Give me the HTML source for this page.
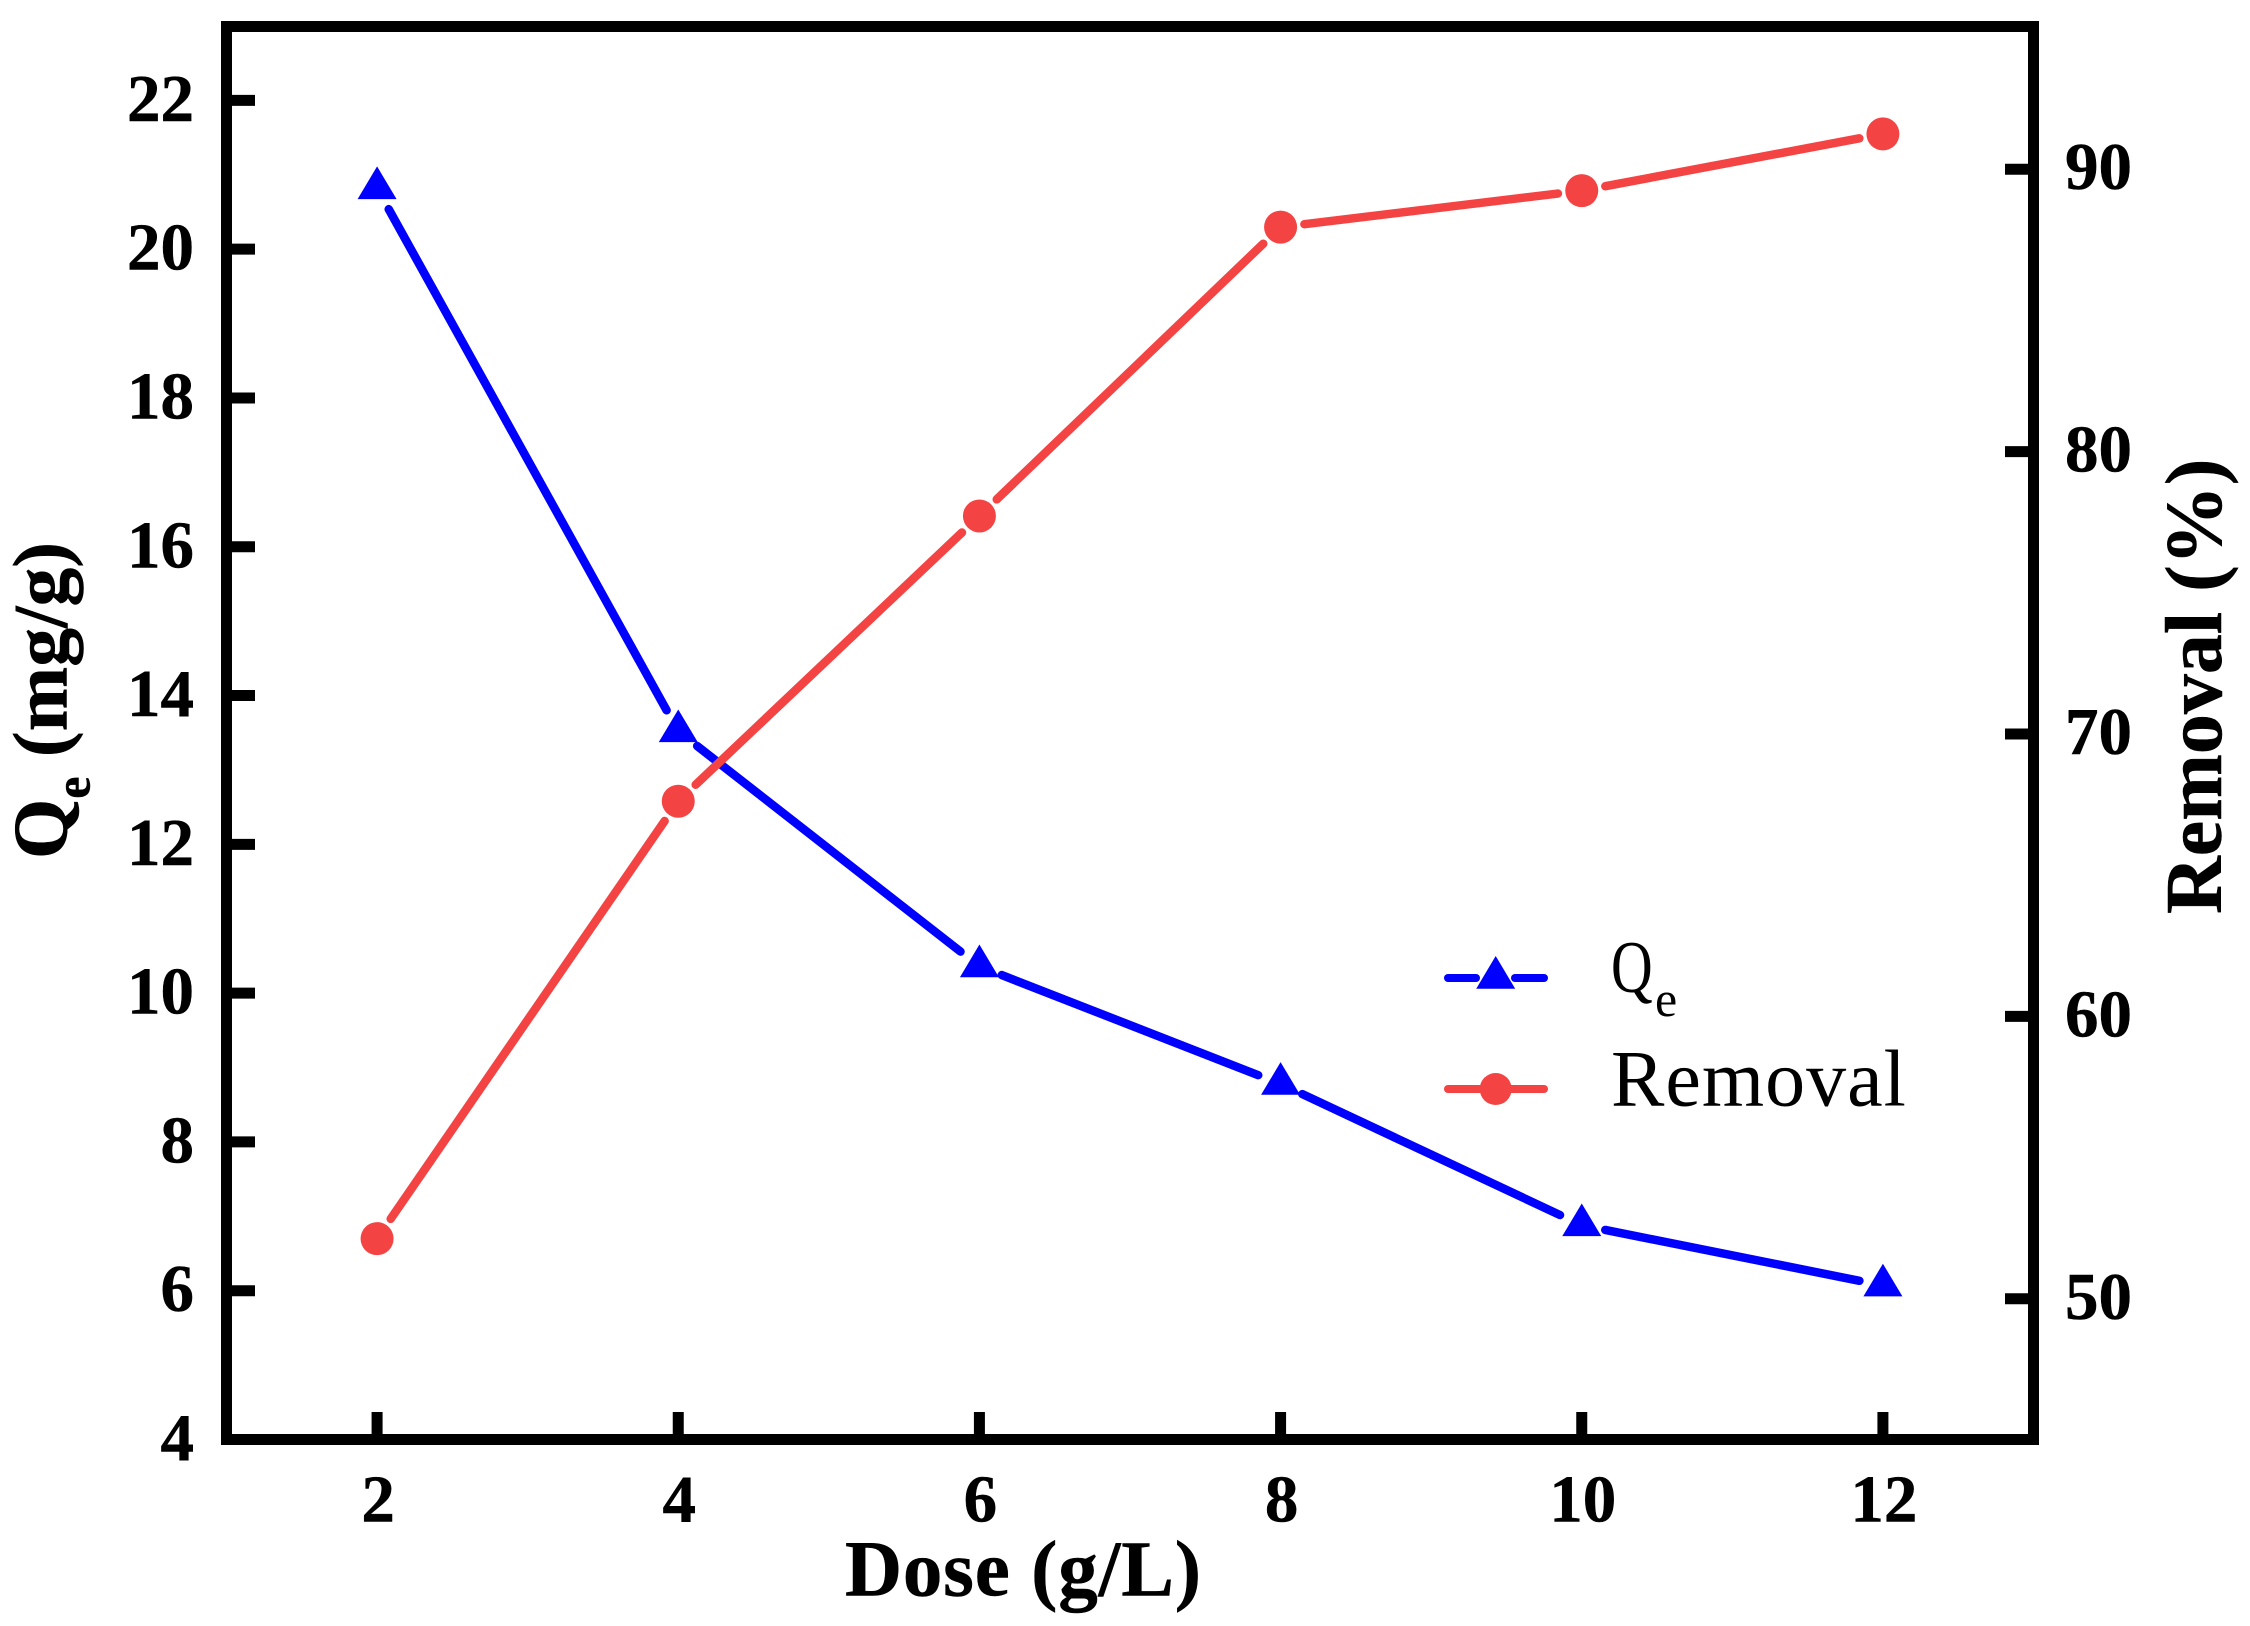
<!DOCTYPE html>
<html lang="en">
<head>
<meta charset="utf-8">
<title>Qe and Removal vs Dose</title>
<style>
html,body{margin:0;padding:0;background:#fff;width:2250px;height:1626px;overflow:hidden}
svg{display:block}
text{font-family:"Liberation Serif",serif;fill:#000;white-space:pre}
.tick{font-size:67px;font-weight:700;stroke:#000;stroke-width:.5px}
.title{font-weight:700;stroke:#000;stroke-width:.5px}
</style>
</head>
<body>
<svg id="chart" xmlns="http://www.w3.org/2000/svg" width="2250" height="1626" viewBox="0 0 2250 1626">
  <rect x="0" y="0" width="2250" height="1626" fill="#fff"/>
  <g id="ticks"></g>
  <g id="tick-labels"></g>
  <g id="series-qe"></g>
  <g id="series-removal"></g>
  <rect x="226.5" y="26.5" width="1807" height="1413" fill="none" stroke="#000" stroke-width="11"/>

  <text class="title" x="845" y="1595.7" font-size="79" letter-spacing="0.8">Dose (g/L)</text>
  <text class="title" transform="translate(66.7 859) rotate(-90)" font-size="77.5">Q<tspan font-size="50" dy="23">e</tspan><tspan dy="-23"> (mg/g)</tspan></text>
  <text class="title" transform="translate(2221 914) rotate(-90)" font-size="80">Removal (%)</text>

  <g>
    <g>
      <line x1="1448" y1="978" x2="1476" y2="978" stroke="#0000ff" stroke-width="8" stroke-linecap="round"/>
      <line x1="1515" y1="978" x2="1544" y2="978" stroke="#0000ff" stroke-width="8" stroke-linecap="round"/>
      <polygon points="1495.7,956 1515.2,988.7 1476.2,988.7" fill="#0000ff"/>
      <text transform="translate(1611 992) scale(0.78 1)" font-size="74">Q</text>
      <text x="1655" y="1016" font-size="50">e</text>
    </g>
    <g>
      <line x1="1448" y1="1089" x2="1544" y2="1089" stroke="#f44343" stroke-width="8" stroke-linecap="round"/>
      <circle cx="1495.7" cy="1089" r="16" fill="#f44343"/>
      <text x="1611" y="1105.7" font-size="80" letter-spacing="1">Removal</text>
    </g>
  </g>
</svg>
<script>
const doseValues = [2, 4, 6, 8, 10, 12];
const qeValues = [20.82, 13.52, 10.36, 8.78, 6.88, 6.07];
const removalValues = [52.13, 67.62, 77.72, 87.95, 89.24, 91.25];
const xTickLabels = [2, 4, 6, 8, 10, 12];
const leftTickLabels = [4, 6, 8, 10, 12, 14, 16, 18, 20, 22];
const rightTickLabels = [50, 60, 70, 80, 90];

const X_DOMAIN = [1, 13], X_RANGE = [226.5, 2033.5];
const QE_DOMAIN = [4, 23], QE_RANGE = [1439.5, 26];
const REMOVAL_DOMAIN = [45, 95], REMOVAL_RANGE = [1440, 28];

function scale(domain, range, v) {
  return range[0] + (v - domain[0]) / (domain[1] - domain[0]) * (range[1] - range[0]);
}
function xAxis(v) { return scale(X_DOMAIN, X_RANGE, v); }
function qeAxis(v) { return scale(QE_DOMAIN, QE_RANGE, v); }
function removalAxis(v) { return scale(REMOVAL_DOMAIN, REMOVAL_RANGE, v); }

const NS = 'http://www.w3.org/2000/svg';
function make(tag, attrs, parent) {
  const el = document.createElementNS(NS, tag);
  for (const k in attrs) el.setAttribute(k, attrs[k]);
  parent.appendChild(el);
  return el;
}

const ticksG = document.getElementById('ticks');
const labelsG = document.getElementById('tick-labels');

xTickLabels.forEach(function (t) {
  const x = xAxis(t);
  const tick = make('line', {x1: x, y1: 1412, x2: x, y2: 1439.5, stroke: '#000', 'stroke-width': 11}, ticksG);
  
  
  const label = make('text', {class: 'tick', x: x + 1, y: 1521.7, 'text-anchor': 'middle'}, labelsG);
  label.textContent = t;
  
  
});

leftTickLabels.forEach(function (t) {
  const y = qeAxis(t);
  const tick = make('line', {x1: 226.5, y1: y, x2: 255, y2: y, stroke: '#000', 'stroke-width': 11}, ticksG);
  
  
  const label = make('text', {class: 'tick', x: 194, y: y + 20.5, 'text-anchor': 'end'}, labelsG);
  label.textContent = t;
  
  
});

rightTickLabels.forEach(function (t) {
  const y = removalAxis(t);
  const tick = make('line', {x1: 2005, y1: y, x2: 2033.5, y2: y, stroke: '#000', 'stroke-width': 11}, ticksG);
  
  
  const label = make('text', {class: 'tick', x: 2065, y: y + 20, 'text-anchor': 'start'}, labelsG);
  label.textContent = t;
  
  
});

const GAP = 24;
function drawSegments(values, yAxis, color, group) {
  for (let i = 0; i < values.length - 1; i++) {
    const x1 = xAxis(doseValues[i]), y1 = yAxis(values[i]);
    const x2 = xAxis(doseValues[i + 1]), y2 = yAxis(values[i + 1]);
    const len = Math.hypot(x2 - x1, y2 - y1);
    const ux = (x2 - x1) / len, uy = (y2 - y1) / len;
    const seg = make('line', {
      x1: x1 + ux * GAP, y1: y1 + uy * GAP,
      x2: x2 - ux * GAP, y2: y2 - uy * GAP,
      stroke: color, 'stroke-width': 8.5, 'stroke-linecap': 'round'
    }, group);
    
    
  }
}

const qeG = document.getElementById('series-qe');
drawSegments(qeValues, qeAxis, '#0000ff', qeG);
qeValues.forEach(function (v, i) {
  const x = xAxis(doseValues[i]), y = qeAxis(v);
  const pts = [x, y - 21.8, x + 19.5, y + 10.9, x - 19.5, y + 10.9].join(' ');
  const m = make('polygon', {points: pts, fill: '#0000ff'}, qeG);
  
  
});

const removalG = document.getElementById('series-removal');
drawSegments(removalValues, removalAxis, '#f44343', removalG);
removalValues.forEach(function (v, i) {
  const m = make('circle', {cx: xAxis(doseValues[i]), cy: removalAxis(v), r: 16.5, fill: '#f44343'}, removalG);
  
  
});
</script>
</body>
</html>
